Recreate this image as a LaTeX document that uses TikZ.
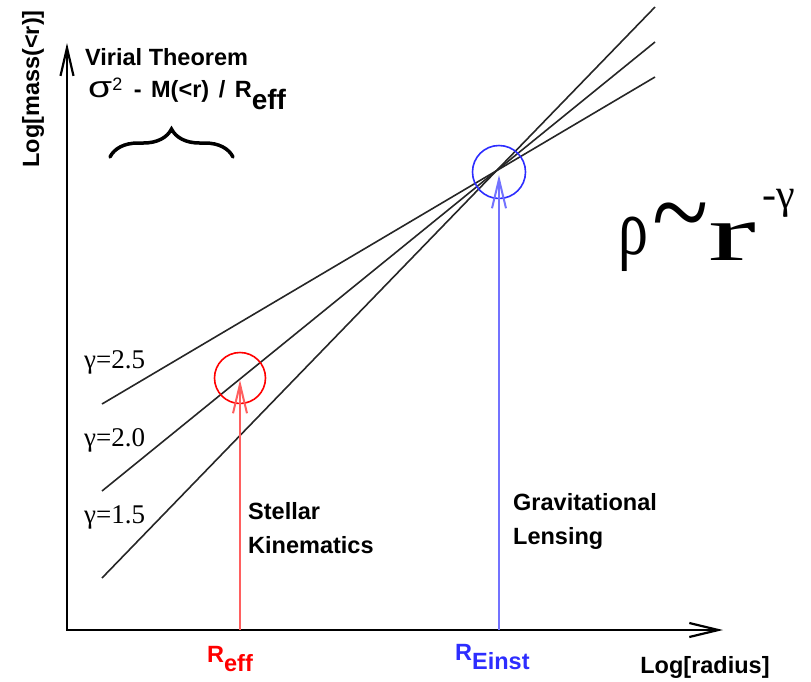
\documentclass[tikz,border=0pt]{standalone}
\usepackage{fontspec}
\setmainfont{Liberation Serif}
\setsansfont{Liberation Sans}
\usetikzlibrary{
    arrows.meta,
    decorations.pathreplacing
}
\definecolor{arrowred}{RGB}{255,95,95}
\definecolor{arrowblue}{RGB}{115,115,255}
\definecolor{ringblue}{RGB}{45,45,255}

\begin{document}
\begin{tikzpicture}[x=1pt,y=-1pt,
    axis/.style={line width=2.2pt, {Straight Barb[length=28pt,width=13pt]}-{Straight Barb[length=29pt,width=14pt]}},
    slope/.style={line width=1.6pt, black!85},
    probe/.style={line width=2pt, -{Straight Barb[length=29pt,width=14pt]}},
    ring/.style={draw, circle, line width=1.6pt, inner sep=0pt},
    lbl/.style={font=\sffamily\bfseries\fontsize{23.5}{34}\selectfont, inner sep=0pt},
    gam/.style={font=\fontsize{27}{28}\selectfont, inner sep=0pt, anchor=west}]
\useasboundingbox (0,0) rectangle (811,681);

% Axes
\coordinate (origin) at (67,630);
\coordinate (xtip) at (723,630);
\coordinate (ytip) at (67,43);
\draw[axis] (ytip) -- (origin) -- (xtip);
\node[lbl, rotate=90] (ylab) at (33,89) {Log[mass(<r)]};
\node[lbl] (xlab) at (705,667) {Log[radius]};

% Power-law lines
\coordinate (s25a) at (102,404); \coordinate (s25b) at (655,77);
\coordinate (s20a) at (102,491); \coordinate (s20b) at (655,42);
\coordinate (s15a) at (102,578); \coordinate (s15b) at (655,7);
\draw[slope] (s25a) -- (s25b);
\draw[slope] (s20a) -- (s20b);
\draw[slope] (s15a) -- (s15b);
\node[gam] (g25) at (84,362) {γ=2.5};
\node[gam] (g20) at (84,440) {γ=2.0};
\node[gam] (g15) at (84,517) {γ=1.5};

% Stellar kinematics
\node[ring, draw=red, minimum size=51pt] (reffring) at (240,378) {};
\coordinate (reffbase) at (240,630);
\coordinate (refftip) at (240,380);
\draw[probe, arrowred] (reffbase) -- (refftip);
\node[lbl, text=red, anchor=base west] (reff) at (207,662) {R\raisebox{-9pt}{eff}};
\node[lbl, align=left, anchor=north west] (stellar) at (248,502) {Stellar\\Kinematics};

% Gravitational lensing
\node[ring, draw=ringblue, minimum size=53pt] (einring) at (499,172) {};
\coordinate (einbase) at (499,630);
\coordinate (eintip) at (499,175);
\draw[probe, arrowblue] (einbase) -- (eintip);
\node[lbl, text=ringblue, anchor=base west] (reinst) at (455,660) {R\raisebox{-9pt}{Einst}};
\node[lbl, align=left, anchor=north west] (lensing) at (513,493) {Gravitational\\Lensing};

% Virial theorem
\node[lbl, anchor=base west] (virial) at (85,65) {Virial Theorem};
\node[lbl, anchor=base west] (sigma) at (88,97)
  {{\mdseries\fontsize{30}{30}\selectfont\scalebox{1.3}[1]{σ}\raisebox{7pt}{\fontsize{18}{18}\selectfont 2}}\hspace{5pt} -\hspace{3pt} M(<r)\hspace{3pt} /\hspace{3pt} R{\fontsize{28}{28}\selectfont\raisebox{-12pt}{eff}}};
\coordinate (bracel) at (110,157);
\coordinate (bracer) at (233,157);
\draw[line width=3.5pt, line cap=round, decorate, decoration={brace, amplitude=28pt}] (bracel) -- (bracer);

% Density law
\node[anchor=base west, inner sep=0pt, font=\fontsize{80}{84}\selectfont] (rho) at (618,260)
  {\raisebox{6pt}{\scalebox{0.75}[1]{ρ}}\hspace{4pt}\raisebox{8pt}{\scalebox{1.3}[1.5]{\textasciitilde}}\scalebox{1.8}[1]{r}\hspace{6pt}\raisebox{52pt}{\fontsize{42}{42}\selectfont -γ}};

\end{tikzpicture}
\end{document}
